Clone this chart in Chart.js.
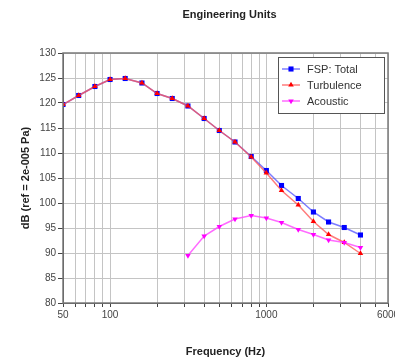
<!DOCTYPE html>
<html>
<head>
<meta charset="utf-8">
<title>Engineering Units</title>
<script src="https://cdn.jsdelivr.net/npm/chart.js@4.4.1/dist/chart.umd.min.js"></script>
<style>
    html, body { margin: 0; padding: 0; background: #fff; overflow: hidden; }
    #wrap { position: relative; width: 395px; height: 362px; }
</style>
</head>
<body>
<div id="wrap"><canvas id="chart" width="395" height="362"></canvas></div>
<script>
// 1/3 octave band centre frequencies (Hz)
const freqs = [50, 63, 80, 100, 125, 160, 200, 250, 315, 400, 500, 630, 800, 1000, 1250, 1600, 2000, 2500, 3150, 4000];
const totalDb = [119.7, 121.5, 123.3, 124.7, 124.9, 124.0, 121.9, 120.9, 119.4, 116.9, 114.5, 112.2, 109.3, 106.5, 103.5, 100.9, 98.2, 96.2, 95.1, 93.6];
const turbulenceDb = [119.7, 121.5, 123.3, 124.7, 124.9, 124.0, 121.9, 120.9, 119.4, 116.9, 114.5, 112.2, 109.2, 106.0, 102.5, 99.6, 96.3, 93.7, 92.1, 89.9];
const acousticFreqs = [315, 400, 500, 630, 800, 1000, 1250, 1600, 2000, 2500, 3150, 4000];
const acousticDb = [89.5, 93.4, 95.3, 96.8, 97.5, 97.0, 96.1, 94.7, 93.7, 92.6, 92.1, 91.1];

const xGridValues = [50, 60, 70, 80, 90, 100, 200, 300, 400, 500, 600, 700, 800, 900, 1000, 2000, 3000, 4000, 5000, 6000];
const xLabels = [50, 100, 1000, 6000];
const seriesNames = ['FSP: Total', 'Turbulence', 'Acoustic'];

Chart.defaults.font.family = "'Liberation Sans', Arial, sans-serif";

function toPoints(xs, ys) {
    return xs.map((x, i) => ({ x: x, y: ys[i] }));
}

// frame round the plot area + the chart title
const framePlugin = {
    id: 'frame',
    afterDraw(chart) {
        const { ctx, chartArea } = chart;
        ctx.save();
        ctx.strokeStyle = '#7a7a7a';
        ctx.lineWidth = 1.5;
        ctx.strokeRect(chartArea.left, chartArea.top, chartArea.right - chartArea.left, chartArea.bottom - chartArea.top);
        ctx.fillStyle = '#222';
        ctx.font = "bold 11px 'Liberation Sans', Arial, sans-serif";
        ctx.textAlign = 'center';
        ctx.textBaseline = 'middle';
        ctx.fillText('Engineering Units', (chartArea.left + chartArea.right) / 2 + 4, 15);
        ctx.restore();
    }
};

// boxed legend inside the top right corner of the plot
const boxLegendPlugin = {
    id: 'boxLegend',
    afterDraw(chart) {
        const { ctx, chartArea } = chart;
        const boxW = 106, boxH = 56;
        const left = chartArea.right - boxW - 4;
        const top = chartArea.top + 4;
        ctx.save();
        ctx.fillStyle = '#fff';
        ctx.fillRect(left, top, boxW, boxH);
        ctx.strokeStyle = '#555';
        ctx.lineWidth = 1;
        ctx.strokeRect(left + 0.5, top + 0.5, boxW, boxH);
        ctx.font = "11px 'Liberation Sans', Arial, sans-serif";
        ctx.textBaseline = 'middle';
        ctx.textAlign = 'left';
        chart.data.datasets.forEach((ds, i) => {
            const y = top + 12 + i * 16;
            ctx.strokeStyle = ds.borderColor;
            ctx.lineWidth = ds.borderWidth;
            ctx.beginPath();
            ctx.moveTo(left + 4, y);
            ctx.lineTo(left + 22, y);
            ctx.stroke();
            ctx.fillStyle = ds.pointBackgroundColor;
            Chart.helpers.drawPoint(ctx, {
                pointStyle: ds.pointStyle,
                rotation: ds.pointRotation || 0,
                radius: ds.pointRadius,
                borderWidth: 0
            }, left + 13, y);
            ctx.fillStyle = '#333';
            ctx.fillText(seriesNames[i], left + 29, y + 0.5);
        });
        ctx.restore();
    }
};

new Chart(document.getElementById('chart'), {
    type: 'line',
    data: {
        datasets: [
            {
                label: seriesNames[0],
                data: toPoints(freqs, totalDb),
                borderColor: 'rgba(80, 80, 255, 0.75)',
                borderWidth: 1.5,
                pointStyle: 'rect',
                pointRadius: 3.6,
                pointBorderWidth: 0,
                pointBackgroundColor: '#0000ff',
                order: 3
            },
            {
                label: seriesNames[1],
                data: toPoints(freqs, turbulenceDb),
                borderColor: 'rgba(255, 80, 80, 0.75)',
                borderWidth: 1.5,
                pointStyle: 'triangle',
                pointRadius: 3.2,
                pointBorderWidth: 0,
                pointBackgroundColor: '#ff0000',
                order: 2
            },
            {
                label: seriesNames[2],
                data: toPoints(acousticFreqs, acousticDb),
                borderColor: 'rgba(255, 70, 255, 0.8)',
                borderWidth: 1.5,
                pointStyle: 'triangle',
                pointRotation: 180,
                pointRadius: 3.2,
                pointBorderWidth: 0,
                pointBackgroundColor: '#ff00ff',
                order: 1
            }
        ]
    },
    options: {
        responsive: false,
        animation: false,
        events: [],
        layout: { padding: { top: 53, right: 7, bottom: 0, left: 0 } },
        plugins: {
            legend: { display: false },
            title: { display: false },
            tooltip: { enabled: false }
        },
        scales: {
            x: {
                type: 'logarithmic',
                min: 50,
                max: 6000,
                afterBuildTicks: function(scale) {
                    scale.ticks = xGridValues.map(v => ({ value: v }));
                },
                ticks: {
                    autoSkip: false,
                    maxRotation: 0,
                    padding: 2,
                    color: '#444',
                    font: { size: 10 },
                    callback: function(value) {
                        return xLabels.includes(value) ? String(value) : '';
                    }
                },
                grid: { color: '#c4c4c4', tickColor: '#444', tickLength: 4 },
                border: { color: '#444', width: 1 },
                title: {
                    display: true,
                    text: 'Frequency (Hz)',
                    color: '#222',
                    font: { size: 11, weight: 'bold' },
                    padding: { top: 0, bottom: 3 }
                },
                afterFit: function(scale) {
                    scale.height = 59;
                    scale.paddingLeft = 0;
                    scale.paddingRight = 0;
                }
            },
            y: {
                min: 80,
                max: 130,
                ticks: { stepSize: 5, padding: 2, color: '#444', font: { size: 10 } },
                grid: { color: '#c4c4c4', tickColor: '#444', tickLength: 5 },
                border: { color: '#444', width: 1 },
                title: {
                    display: true,
                    text: 'dB (ref = 2e-005 Pa)',
                    color: '#222',
                    font: { size: 11, weight: 'bold' },
                    padding: { top: 19, bottom: 0 }
                },
                afterFit: function(scale) {
                    scale.width = 63;
                    scale.paddingTop = 0;
                    scale.paddingBottom = 0;
                }
            }
        }
    },
    plugins: [framePlugin, boxLegendPlugin]
});
</script>
</body>
</html>
